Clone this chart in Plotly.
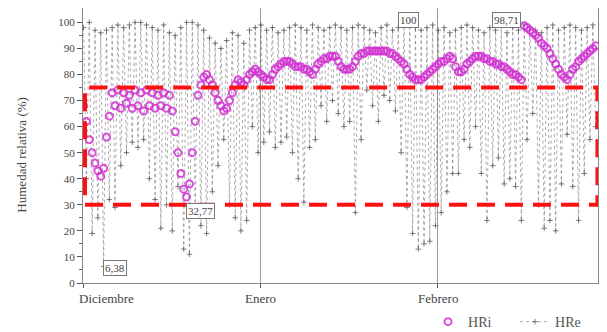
import plotly.graph_objects as go

# ---- data ----
month_labels = ["Diciembre", "Enero", "Febrero"]
month_start_day = [0, 31, 62]

# Outdoor relative humidity HRe: daily maximum (night) and minimum (afternoon), Dec 1 .. Feb 28
hre_max = [98, 100, 97, 96, 97, 98, 99, 98, 99, 100, 100, 99, 98, 97, 99, 96, 95, 98, 100, 100,
           99, 97, 94, 92, 90, 93, 96, 95, 92, 97, 98, 99, 97, 98, 96, 97, 98, 99, 98, 97,
           99, 98, 97, 98, 99, 98, 97, 98, 99, 98, 97, 96, 98, 99, 97, 98, 100, 99, 98, 97,
           98, 99, 97, 98, 96, 97, 98, 99, 98, 97, 96, 98, 97, 99, 96, 98, 97, 99, 98, 97,
           96, 98, 99, 97, 98, 99, 98, 97, 98, 99]
hre_min = [40, 19, 25, 6.38, 32, 29, 45, 50, 54, 52, 55, 40, 32, 21, 30, 20, 37, 13, 11, 28,
           22, 19, 35, 45, 55, 30, 25, 20, 24, 60, 50, 54, 58, 52, 54, 56, 50, 40, 31, 52,
           55, 68, 62, 70, 65, 60, 62, 27, 55, 74, 68, 62, 72, 70, 66, 50, 29, 19, 13, 15,
           16, 22, 27, 35, 42, 42, 55, 52, 60, 42, 24, 45, 48, 38, 40, 37, 24, 55, 65, 30,
           21, 24, 20, 38, 57, 37, 24, 42, 55, 60]

# Indoor relative humidity HRi: night and afternoon readings per day
hri_night = [68, 55, 46, 41, 56, 73, 74, 73, 72, 74, 73, 74, 73, 72, 73, 72, 58, 42, 33, 50,
             72, 79, 78, 73, 68, 67, 73, 78, 76, 80, 82, 80, 78, 80, 83, 85, 85, 83, 83, 82,
             80, 84, 86, 87, 87, 83, 82, 83, 87, 88, 89, 89, 89, 89, 88, 86, 84, 80, 78, 78,
             80, 82, 84, 85, 87, 83, 81, 84, 86, 87, 86, 85, 84, 83, 82, 80, 79, 98.71, 97, 95,
             92, 90, 86, 82, 79, 80, 83, 86, 88, 90]
hri_day = [62, 50, 43, 44, 64, 68, 67, 69, 67, 68, 66, 68, 67, 68, 67, 66, 50, 36, 38, 62,
           76, 80, 76, 70, 66, 70, 76, 77, 78, 81, 81, 79, 78, 82, 84, 85, 84, 83, 82, 81,
           82, 85, 86, 87, 85, 82, 82, 85, 88, 89, 89, 89, 89, 88, 87, 85, 82, 79, 78, 79,
           81, 83, 85, 86, 86, 81, 82, 85, 87, 87, 86, 85, 84, 83, 81, 80, 78, 98, 96, 94,
           91, 88, 84, 80, 78, 82, 85, 87, 89, 91]

annot_texts = ["6,38", "32,77", "100", "98,71"]

# ---- build series ----
days = list(range(len(hre_max)))
hre_x, hre_y = [], []
for d, mx, mn in zip(days, hre_max, hre_min):
    hre_x += [d + 0.1, d + 0.6]
    hre_y += [mx, mn]
hri_x, hri_y = [], []
for d, n, a in zip(days, hri_night, hri_day):
    hri_x += [d + 0.1, d + 0.6]
    hri_y += [n, a]

serif = "Liberation Serif, Times New Roman, serif"
fig = go.Figure()
fig.add_trace(go.Scatter(
    x=hre_x, y=hre_y, name="HRe", mode="lines+markers", legendrank=2,
    line=dict(color="rgba(130,120,130,0.65)", width=1, dash="dot"),
    marker=dict(symbol="cross-thin", size=4, color="rgba(90,80,90,0.75)",
                line=dict(color="rgba(90,80,90,0.75)", width=1)),
))
fig.add_trace(go.Scatter(
    x=hri_x, y=hri_y, name="HRi", mode="markers", legendrank=1,
    marker=dict(symbol="circle-open", size=7, color="rgba(210,50,210,0.85)",
                line=dict(width=2)),
))

# dashed red rectangle
fig.add_shape(type="rect", x0=0.35, x1=89.9, y0=30, y1=75, xref="x", yref="y",
              line=dict(color="#ff1010", width=4, dash="18px,10px"), layer="above")

# value boxes
annot_pos = [(5.6, 5.8), (20.6, 27.6), (56.8, 100.8), (74.0, 100.8)]
for t, (ax, ay) in zip(annot_texts, annot_pos):
    fig.add_annotation(x=ax, y=ay, text=t, showarrow=False, xref="x", yref="y",
                       font=dict(family=serif, size=11, color="#444"),
                       bgcolor="white", bordercolor="#777", borderwidth=1, borderpad=1)

# month labels
for lab, d in zip(month_labels, month_start_day):
    if d == 0:
        fig.add_annotation(x=d, y=0, xref="x", yref="paper", text=lab, showarrow=False,
                           xanchor="left", yanchor="top", xshift=-6, yshift=-6,
                           font=dict(family=serif, size=13, color="#444"))
    else:
        fig.add_annotation(x=d, y=0, xref="x", yref="paper", text=lab, showarrow=False,
                           xanchor="center", yanchor="top", yshift=-6,
                           font=dict(family=serif, size=13, color="#444"))

# y title
fig.add_annotation(x=0, y=0.465, xref="paper", yref="paper", text="Humedad relativa (%)",
                   textangle=-90, showarrow=False, xshift=-71,
                   font=dict(family=serif, size=13, color="#444"))

# the page adds an 8 px body margin, so the figure is 8 px smaller and offset
fig.update_layout(
    width=599, height=324,
    margin=dict(l=75, r=9, t=0, b=49, autoexpand=False),
    paper_bgcolor="white", plot_bgcolor="white",
    showlegend=True,
    legend=dict(orientation="h", x=0.67, xanchor="left", y=-0.142, yanchor="middle",
                font=dict(family=serif, size=14, color="#555"), bgcolor="rgba(0,0,0,0)",
                itemwidth=30, tracegroupgap=0, entrywidth=42, entrywidthmode="pixels"),
)
fig.update_xaxes(range=[0, 90], tickvals=month_start_day, ticktext=["", "", ""],
                 ticks="outside", ticklen=4, tickcolor="#555",
                 showgrid=True, gridcolor="#9a9a9a", gridwidth=1,
                 showline=True, linecolor="#888", linewidth=1, mirror=True, zeroline=False)
fig.update_yaxes(range=[0, 105.5], tickvals=list(range(0, 101, 10)),
                 ticks="outside", ticklen=5, tickcolor="#555",
                 minor=dict(tickvals=list(range(5, 101, 10)), ticks="outside", ticklen=3, tickcolor="#666"),
                 tickfont=dict(family=serif, size=11, color="#444"),
                 showgrid=False, showline=True, linecolor="#888", linewidth=1, mirror=True, zeroline=False)

fig.write_html("out.html")
